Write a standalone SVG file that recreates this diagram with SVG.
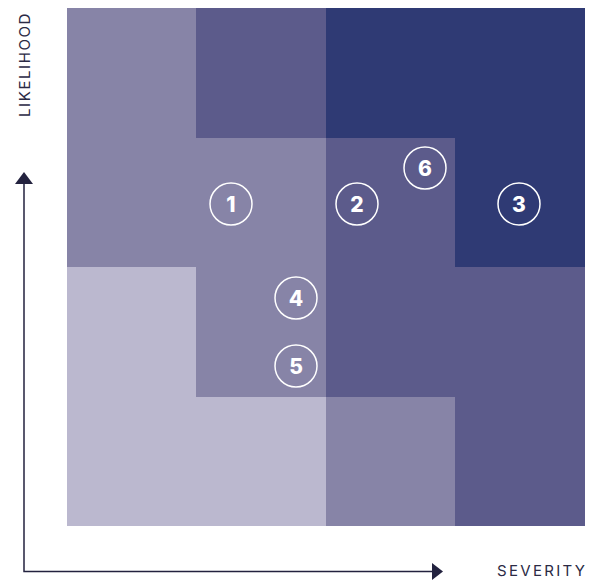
<svg xmlns="http://www.w3.org/2000/svg" width="592" height="581" viewBox="0 0 592 581">
  <style>
    .l1 { fill: #bbb8cf; }
    .l2 { fill: #8784a7; }
    .l3 { fill: #5c5b8b; }
    .l4 { fill: #2f3a74; }
    .axis { stroke: #23223f; stroke-width: 1.5; fill: none; }
    .axis-label { font-family: Inter, "Liberation Sans", sans-serif; font-size: 15px; letter-spacing: 1.6px; fill: #2b2a45; }
    .marker circle { fill: none; stroke: #ffffff; stroke-width: 1.5; }
    .marker text { font-family: Inter, "Liberation Sans", sans-serif; font-weight: 800; font-size: 21px; fill: #ffffff; text-anchor: middle; }
  </style>

  <!-- risk matrix cells: 4 columns (severity) x 4 rows (likelihood) -->
  <g id="matrix">
    <rect class="l2" x="67" y="8" width="129" height="130"/>
    <rect class="l3" x="196" y="8" width="130" height="130"/>
    <rect class="l4" x="326" y="8" width="259" height="130"/>

    <rect class="l2" x="67" y="138" width="259" height="129"/>
    <rect class="l3" x="326" y="138" width="129" height="129"/>
    <rect class="l4" x="455" y="138" width="130" height="129"/>

    <rect class="l1" x="67" y="267" width="129" height="130"/>
    <rect class="l2" x="196" y="267" width="130" height="130"/>
    <rect class="l3" x="326" y="267" width="259" height="130"/>

    <rect class="l1" x="67" y="397" width="259" height="129"/>
    <rect class="l2" x="326" y="397" width="129" height="129"/>
    <rect class="l3" x="455" y="397" width="130" height="129"/>
  </g>

  <!-- axes -->
  <g id="axes">
    <path class="axis" d="M24 182 V571.5 H434"/>
    <polygon points="24,172 15,184 33,184" fill="#23223f"/>
    <polygon points="443,571.5 432,563 432,580" fill="#23223f"/>
  </g>

  <text class="axis-label" transform="translate(30 117) rotate(-90)">LIKELIHOOD</text>
  <text class="axis-label" x="497" y="576" style="letter-spacing:2.3px">SEVERITY</text>

  <!-- numbered risk markers -->
  <g id="risk1" class="marker"><circle cx="231" cy="204" r="21"/><text x="231" y="211.5">1</text></g>
  <g id="risk2" class="marker"><circle cx="357" cy="204" r="21"/><text x="357" y="211.5">2</text></g>
  <g id="risk3" class="marker"><circle cx="519" cy="204" r="21"/><text x="519" y="211.5">3</text></g>
  <g id="risk4" class="marker"><circle cx="296" cy="298" r="21"/><text x="296" y="305.5">4</text></g>
  <g id="risk5" class="marker"><circle cx="296" cy="366" r="21"/><text x="296" y="373.5">5</text></g>
  <g id="risk6" class="marker"><circle cx="425" cy="168" r="21"/><text x="425" y="175.5">6</text></g>
</svg>
